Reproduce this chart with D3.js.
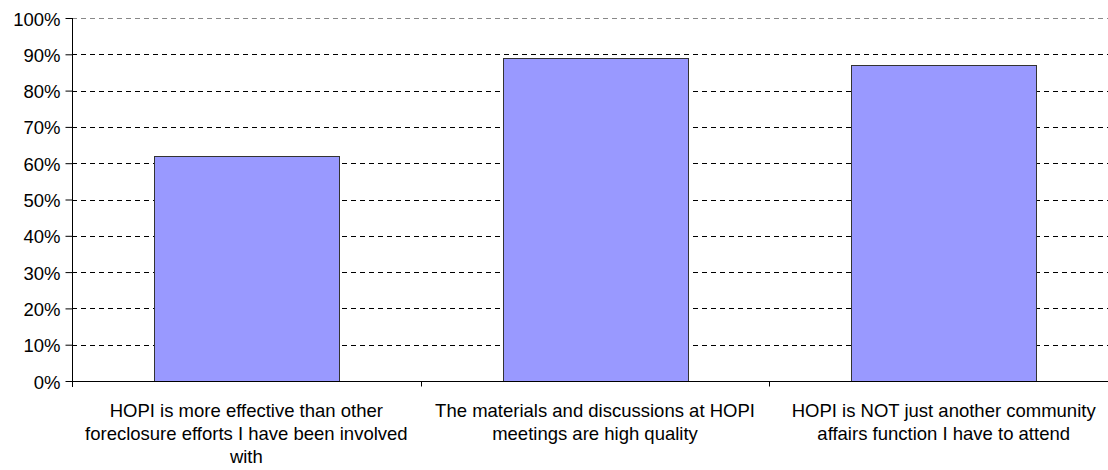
<!DOCTYPE html>
<html>
<head>
<meta charset="utf-8">
<script src="https://cdn.jsdelivr.net/npm/d3@7"></script>
<style>
  body { margin: 0; background: #fff; }
  svg { display: block; }
</style>
</head>
<body>
<div id="chart"></div>
<script>
// categories (wrapped as in the original)
var categories = ["c1", "c2", "c3"];
var categoryLines = [
  ["HOPI is more effective than other", "foreclosure efforts I have been involved", "with"],
  ["The materials and discussions at HOPI", "meetings are high quality"],
  ["HOPI is NOT just another community", "affairs function I have to attend"]
];
var values = [0.62, 0.89, 0.87];
var yTicks = [0, 0.1, 0.2, 0.3, 0.4, 0.5, 0.6, 0.7, 0.8, 0.9, 1.0];

var W = 1108, H = 470;
var margin = {top: 18, right: -10, bottom: 89, left: 72};
var w = W - margin.left - margin.right,
    h = H - margin.top - margin.bottom;
var fontFam = "'Liberation Sans', Arial, sans-serif";

var svg = d3.select("#chart").append("svg")
  .attr("width", W).attr("height", H);
var g = svg.append("g")
  .attr("transform", "translate(" + margin.left + "," + margin.top + ")");

var x = d3.scaleBand().domain(categories).range([0, w]).paddingInner(0.47).paddingOuter(0.235);
var xb = d3.scaleBand().domain(categories).range([0, w]);
var y = d3.scaleLinear().domain([0, 1]).range([h, 0]);

// grid lines
g.selectAll(".grid").data(yTicks.filter(function(d) { return d > 0; }))
  .enter().append("line")
  .attr("x1", 0).attr("x2", w)
  .attr("y1", function(d) { return Math.round(y(d)) + 0.5; })
  .attr("y2", function(d) { return Math.round(y(d)) + 0.5; })
  .attr("stroke", function(d) { return d === 1 ? "#888" : "#000"; })
  .attr("stroke-width", 1)
  .attr("stroke-dasharray", "5,4");

// bars
g.selectAll(".bar").data(values)
  .enter().append("rect")
  .attr("x", function(d, i) { return Math.round(x(categories[i])) + 0.5; })
  .attr("y", function(d) { return Math.round(y(d)) + 0.5; })
  .attr("width", Math.round(x.bandwidth()))
  .attr("height", function(d) { return Math.round(h - y(d)); })
  .attr("fill", "#9999ff")
  .attr("stroke", "#333")
  .attr("stroke-width", 1);

// y axis
var yAxis = d3.axisLeft(y).tickValues(yTicks).tickSize(7).tickPadding(5)
  .tickFormat(d3.format(".0%"));
var ya = g.append("g").attr("transform", "translate(0.5,0)").call(yAxis);
ya.select(".domain").remove();
ya.append("line").attr("x1", 0).attr("x2", 0).attr("y1", 0).attr("y2", h + 6).attr("stroke", "#000");
ya.selectAll(".tick line").attr("stroke", "#000");
ya.selectAll(".tick text")
  .attr("fill", "#000")
  .attr("dy", "0.38em")
  .style("font-family", fontFam)
  .style("font-size", "18.5px");

// x axis line and ticks at band edges
var xa = g.append("g").attr("transform", "translate(0," + (Math.round(h) + 0.5) + ")");
xa.append("line").attr("x1", 0).attr("x2", w).attr("stroke", "#000");
xa.selectAll(".xt").data(categories.slice(1).concat(["end"]))
  .enter().append("line")
  .attr("x1", function(d, i) { return Math.round(xb.step() * (i + 1)) + 0.5; })
  .attr("x2", function(d, i) { return Math.round(xb.step() * (i + 1)) + 0.5; })
  .attr("y1", 0).attr("y2", 5)
  .attr("stroke", "#000");

// category labels
var labels = g.selectAll(".lab").data(categories)
  .enter().append("text")
  .attr("text-anchor", "middle")
  .attr("fill", "#000")
  .style("font-family", fontFam)
  .style("font-size", "18.5px")
  .attr("transform", function(d) {
    return "translate(" + (xb(d) + xb.bandwidth() / 2) + "," + (h + 36) + ")";
  });
labels.each(function(d, i) {
  d3.select(this).selectAll("tspan").data(categoryLines[i])
    .enter().append("tspan")
    .attr("x", 0)
    .attr("dy", function(t, j) { return j === 0 ? 0 : 23; })
    .text(function(t) { return t; });
});
</script>
</body>
</html>
